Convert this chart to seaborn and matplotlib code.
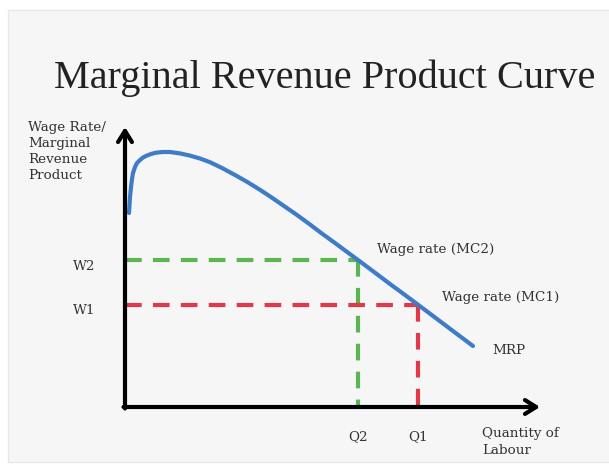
import matplotlib
matplotlib.use("Agg")
import matplotlib.pyplot as plt
import seaborn as sns
import pandas as pd
from matplotlib.patches import Rectangle

# ---- data (quantity of labour vs MRP, arbitrary units) ----
mrp_quantity = [4, 5, 6, 7, 8, 10, 12, 15, 18, 22, 26, 31, 38, 45, 55, 65, 75, 85, 97, 110,
                122, 135, 148, 160, 172, 185, 197, 210, 222, 233, 250, 265, 280, 293, 307, 320, 334, 348]
mrp_value = [194, 210, 220, 228, 234, 240, 244, 247, 249.5, 251.5, 253, 254.3, 255, 255, 253.6, 251.4, 248.5, 244.8, 239, 232,
             225.2, 217.2, 208.6, 200.3, 192, 182.5, 173.4, 164, 155.1, 147, 134.3, 123, 112, 102.3, 91.8, 82, 71.5, 61]
wage_levels = {"W2": 147, "W1": 102}
quantity_levels = {"Q2": 233, "Q1": 293}
x_axis_end = 415
y_axis_end = 280

sns.set_style("white")
plt.rcParams["font.family"] = ["DejaVu Serif", "Liberation Serif"]

fig = plt.figure(figsize=(6.09, 4.66), dpi=100)
fig.patch.set_facecolor("white")
ax = fig.add_axes([0, 0, 1, 1])
ax.set_xlim(-125, 609 - 125)
ax.set_ylim(407 - 466, 407)
ax.axis("off")

# light panel background
ax.add_patch(Rectangle((8 - 125, 407 - 462), 609, 452, facecolor="#f6f6f6",
                       edgecolor="#e8e8e8", lw=1, zorder=0))

df = pd.DataFrame({"q": mrp_quantity, "mrp": mrp_value})
sns.lineplot(data=df, x="q", y="mrp", ax=ax, color="#3f7cc8", lw=3, zorder=4,
             sort=False)
for ln in ax.lines:
    ln.set_solid_joinstyle("round")
    ln.set_solid_capstyle("round")

green = "#5ab552"
red = "#e0394a"
w2, w1 = wage_levels["W2"], wage_levels["W1"]
q2, q1 = quantity_levels["Q2"], quantity_levels["Q1"]
dash = (4, 2.7)
ax.plot([0, q2], [w2, w2], color=green, lw=3, dashes=dash, zorder=3)
ax.plot([q2, q2], [w2, 0], color=green, lw=3, dashes=dash, zorder=3)
ax.plot([0, q1], [w1, w1], color=red, lw=3, dashes=dash, zorder=3)
ax.plot([q1, q1], [w1, 0], color=red, lw=3, dashes=dash, zorder=3)

# axes arrows
astyle = "->,head_length=0.8,head_width=0.5"
ax.annotate("", xy=(x_axis_end, 0), xytext=(-1.5, 0),
            arrowprops=dict(arrowstyle=astyle, lw=3, color="black",
                            shrinkA=0, shrinkB=0), zorder=5)
ax.annotate("", xy=(0, y_axis_end), xytext=(0, -1.5),
            arrowprops=dict(arrowstyle=astyle, lw=3, color="black",
                            shrinkA=0, shrinkB=0), zorder=5)

txt = "#333333"
fs = 9.7
ax.text(325 - 125, 407 - 78, "Marginal Revenue Product Curve", ha="center",
        va="center", fontsize=29, color="#222222",
        family=["Liberation Serif", "DejaVu Serif"])
ax.text(28 - 125, 407 - 121, "Wage Rate/\nMarginal\nRevenue\nProduct", ha="left",
        va="top", fontsize=fs, color=txt, linespacing=1.3)
ax.text(84 - 125, w2 - 7, "W2", ha="center", va="center", fontsize=fs, color=txt)
ax.text(84 - 125, w1 - 6, "W1", ha="center", va="center", fontsize=fs, color=txt)
ax.text(q2, -30, "Q2", ha="center", va="center", fontsize=fs, color=txt)
ax.text(q1, -30, "Q1", ha="center", va="center", fontsize=fs, color=txt)
ax.text(482 - 125, -35, "Quantity of\nLabour", ha="left", va="center",
        fontsize=fs, color=txt, linespacing=1.3)
ax.text(377 - 125, 407 - 249, "Wage rate (MC2)", ha="left", va="center",
        fontsize=fs, color=txt)
ax.text(442 - 125, 407 - 297, "Wage rate (MC1)", ha="left", va="center",
        fontsize=fs, color=txt)
ax.text(492 - 125, 407 - 350, "MRP", ha="left", va="center", fontsize=fs,
        color=txt)

fig.savefig("out.png", dpi=100)
